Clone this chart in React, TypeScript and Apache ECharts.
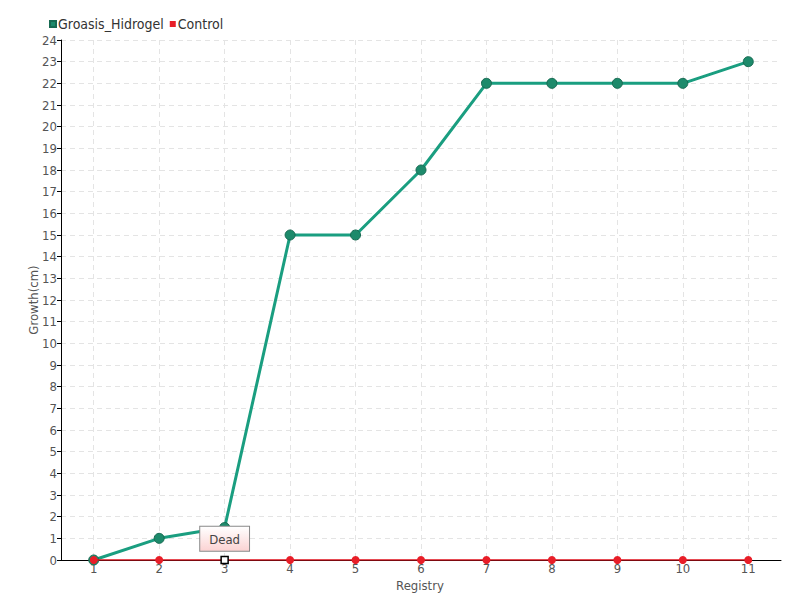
import React, { useEffect, useRef } from "react";
import * as echarts from "echarts";

const categories = ["1", "2", "3", "4", "5", "6", "7", "8", "9", "10", "11"];
const hidrogel = [0, 1, 1.5, 15, 15, 18, 22, 22, 22, 22, 23];
const control = [0, 0, 0, 0, 0, 0, 0, 0, 0, 0, 0];
const deadIndex = 2;
const deadText = "Dead";
const xName = "Registry";
const yName = "Growth(cm)";

const FONT = "'Liberation Sans Narrow', 'DejaVu Sans Condensed', sans-serif";

export default function App() {
  const ref = useRef<HTMLDivElement>(null);
  useEffect(() => {
    if (!ref.current) return;
    const chart = echarts.init(ref.current, null, { renderer: "svg" });
    const controlData = control.map((v, i) =>
      i === deadIndex
        ? {
            value: v,
            symbol: "rect",
            symbolSize: 7,
            itemStyle: { color: "#ffffff", borderColor: "#000000", borderWidth: 1.5 },
            label: {
              show: true,
              formatter: deadText,
              position: "top",
              distance: 5,
              color: "#444",
              fontSize: 13,
              fontFamily: FONT,
              padding: [6, 9, 5, 9],
              borderColor: "#888",
              borderWidth: 1,
              backgroundColor: new echarts.graphic.LinearGradient(0, 0, 0, 1, [
                { offset: 0, color: "#ffffff" },
                { offset: 1, color: "#fbd3d3" },
              ]),
            },
          }
        : v
    );
    chart.setOption({
      animation: false,
      textStyle: { fontFamily: FONT },
      legend: {
        left: 44,
        top: 12,
        itemWidth: 6,
        itemHeight: 6,
        itemGap: 6,
        icon: "rect",
        textStyle: { color: "#333", fontSize: 14, fontFamily: FONT, padding: [0, 0, 0, -3] },
        data: ["Groasis_Hidrogel", "Control"],
      },
      grid: { left: 61, right: 19, top: 40, bottom: 40 },
      graphic: [
        {
          type: "text",
          x: 420,
          y: 585,
          style: {
            text: xName,
            fill: "#555",
            font: `13px ${FONT}`,
            align: "center",
            verticalAlign: "middle",
          },
        },
        {
          type: "text",
          x: 33,
          y: 300,
          rotation: Math.PI / 2,
          style: {
            text: yName,
            fill: "#555",
            font: `13px ${FONT}`,
            align: "center",
            verticalAlign: "middle",
          },
        },
      ],
      xAxis: {
        type: "category",
        data: categories,
        boundaryGap: true,
        axisLine: { lineStyle: { color: "#000", width: 1 } },
        axisTick: { show: true, alignWithLabel: true, length: 3, lineStyle: { color: "#000" } },
        axisLabel: { color: "#555", fontSize: 13, margin: 2, fontFamily: FONT },
        splitLine: {
          show: true,
          alignWithLabel: true,
          lineStyle: { color: "#e4e4e4", type: [5, 4], width: 1 },
        },
      } as any,
      yAxis: {
        type: "value",
        min: 0,
        max: 24,
        interval: 1,
        axisLine: { show: true, lineStyle: { color: "#000", width: 1 } },
        axisTick: { show: true, length: 4, lineStyle: { color: "#000" } },
        axisLabel: { color: "#555", fontSize: 13, margin: 4, fontFamily: FONT },
        splitLine: { show: true, lineStyle: { color: "#e4e4e4", type: [5, 4], width: 1 } },
      },
      series: [
        {
          name: "Groasis_Hidrogel",
          type: "line",
          data: hidrogel,
          symbol: "circle",
          symbolSize: 10,
          lineStyle: { color: "#1a9e80", width: 3 },
          itemStyle: { color: "#1d8a6b", borderColor: "#176a52", borderWidth: 1 },
          z: 3,
        },
        {
          name: "Control",
          type: "line",
          data: controlData,
          symbol: "circle",
          symbolSize: 8,
          lineStyle: { color: "#e0101c", width: 1.5 },
          itemStyle: { color: "#e81e28" },
          z: 4,
        },
      ],
    });
    return () => chart.dispose();
  }, []);
  return <div ref={ref} style={{ width: 800, height: 600, position: "absolute", left: 0, top: 0 }} />;
}
